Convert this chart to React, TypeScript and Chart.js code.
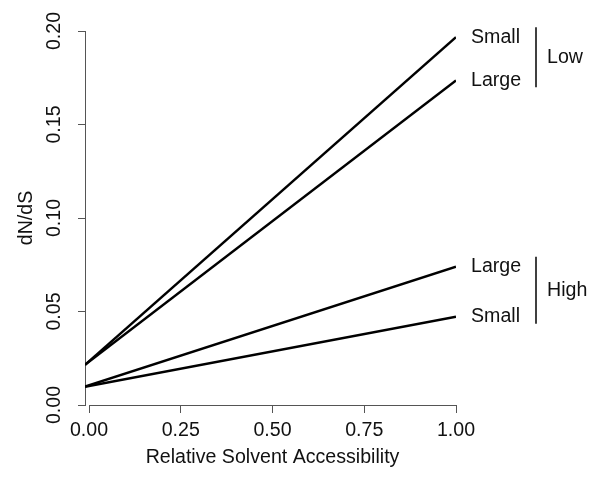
import React, { useEffect, useRef } from "react";
import { Chart, registerables } from "chart.js";

Chart.register(...registerables);

// ---- data ----
const xPoints = [-0.011, 1.0];
const seriesNames = ["Small", "Large", "Large", "Small"];
const seriesGroups = ["Low", "Low", "High", "High"];
const startValues = [0.0215, 0.0215, 0.0098, 0.0098];
const endValues = [0.1967, 0.1736, 0.0739, 0.0472];
const groupNames = ["Low", "High"];
const xTicks = [0, 0.25, 0.5, 0.75, 1.0];
const xTickLabels = ["0.00", "0.25", "0.50", "0.75", "1.00"];
const yTicks = [0, 0.05, 0.1, 0.15, 0.2];
const yTickLabels = ["0.00", "0.05", "0.10", "0.15", "0.20"];
const xTitle = "Relative Solvent Accessibility";
const yTitle = "dN/dS";

const FONT = '"Liberation Sans", Arial, Helvetica, sans-serif';
const FONT_SIZE = 19.6;
const TEXT = "#111";
const AXIS = "#555";

const annotatePlugin = {
  id: "annotate",
  afterDraw(chart: any) {
    const ctx = chart.ctx;
    const xs = chart.scales.x;
    const ys = chart.scales.y;
    const area = chart.chartArea;
    ctx.save();
    ctx.fillStyle = TEXT;
    ctx.strokeStyle = AXIS;
    ctx.lineWidth = 1;
    // x axis line (from first to last tick, R style)
    ctx.beginPath();
    ctx.moveTo(xs.getPixelForValue(xTicks[0]), area.bottom + 0.5);
    ctx.lineTo(xs.getPixelForValue(xTicks[xTicks.length - 1]), area.bottom + 0.5);
    ctx.stroke();

    ctx.font = `${FONT_SIZE}px ${FONT}`;
    // y tick labels, rotated
    yTicks.forEach((v, i) => {
      const py = ys.getPixelForValue(v);
      ctx.save();
      ctx.translate(55, py);
      ctx.rotate(-Math.PI / 2);
      ctx.textAlign = "center";
      ctx.textBaseline = "middle";
      ctx.fillText(yTickLabels[i], 0, 0);
      ctx.restore();
    });
    // y title
    ctx.save();
    ctx.translate(27, (area.top + area.bottom) / 2);
    ctx.rotate(-Math.PI / 2);
    ctx.textAlign = "center";
    ctx.textBaseline = "middle";
    ctx.fillText(yTitle, 0, 0);
    ctx.restore();
    // x title
    ctx.textAlign = "center";
    ctx.textBaseline = "middle";
    ctx.fillText(xTitle, (area.left + area.right) / 2 + 2, 458);

    // right-side series labels
    const xEnd = xs.getPixelForValue(xPoints[xPoints.length - 1]);
    ctx.textAlign = "left";
    ctx.textBaseline = "middle";
    seriesNames.forEach((name, i) => {
      ctx.fillText(name, xEnd + 15, ys.getPixelForValue(endValues[i]));
    });
    // group brackets
    ctx.strokeStyle = "#000";
    ctx.lineWidth = 1.5;
    groupNames.forEach((g) => {
      const ysPix = seriesGroups
        .map((sg, i) => (sg === g ? ys.getPixelForValue(endValues[i]) : null))
        .filter((v) => v !== null) as number[];
      const top = Math.min(...ysPix) - 10;
      const bot = Math.max(...ysPix) + 7;
      const bx = xEnd + 80;
      ctx.beginPath();
      ctx.moveTo(bx, top);
      ctx.lineTo(bx, bot);
      ctx.stroke();
      ctx.fillText(g, bx + 11, (top + bot) / 2);
    });
    ctx.restore();
  },
};

export default function App() {
  const ref = useRef<HTMLCanvasElement>(null);
  useEffect(() => {
    if (!ref.current) return;
    const datasets = seriesNames.map((name, i) => ({
      label: `${name} (${seriesGroups[i]})`,
      data: xPoints.map((x, j) => ({ x, y: j === 0 ? startValues[i] : endValues[i] })),
      borderColor: "#000",
      borderWidth: 2.5,
      pointRadius: 0,
      fill: false,
      tension: 0,
    }));
    const chart = new Chart(ref.current, {
      type: "line",
      data: { datasets },
      options: {
        responsive: false,
        animation: false,
        devicePixelRatio: 1,
        layout: { padding: { top: 31, right: 144, left: 0, bottom: 0 } },
        plugins: { legend: { display: false }, tooltip: { enabled: false } },
        scales: {
          x: {
            type: "linear",
            min: xPoints[0],
            max: xPoints[xPoints.length - 1],
            afterBuildTicks: (s: any) => {
              s.ticks = xTicks.map((v) => ({ value: v }));
            },
            afterFit: (s: any) => {
              s.height = 75;
            },
            border: { display: false },
            grid: { drawOnChartArea: false, drawTicks: true, tickLength: 8, color: AXIS },
            ticks: {
              maxRotation: 0,
              minRotation: 0,
              autoSkip: false,
              padding: 6,
              color: TEXT,
              font: { family: FONT, size: FONT_SIZE },
              callback: (v: any) => {
                const idx = xTicks.indexOf(Number(v));
                return idx >= 0 ? xTickLabels[idx] : "";
              },
            },
          },
          y: {
            type: "linear",
            min: yTicks[0],
            max: yTicks[yTicks.length - 1],
            afterBuildTicks: (s: any) => {
              s.ticks = yTicks.map((v) => ({ value: v }));
            },
            afterFit: (s: any) => {
              s.width = 85;
            },
            border: { display: true, color: AXIS, width: 1 },
            grid: { drawOnChartArea: false, drawTicks: true, tickLength: 7, color: AXIS },
            ticks: { display: false },
          },
        },
      },
      plugins: [annotatePlugin],
    });
    return () => chart.destroy();
  }, []);
  return (
    <div style={{ position: "fixed", left: 0, top: 0, width: 600, height: 480, background: "#fff" }}>
      <canvas ref={ref} width={600} height={480} />
    </div>
  );
}
